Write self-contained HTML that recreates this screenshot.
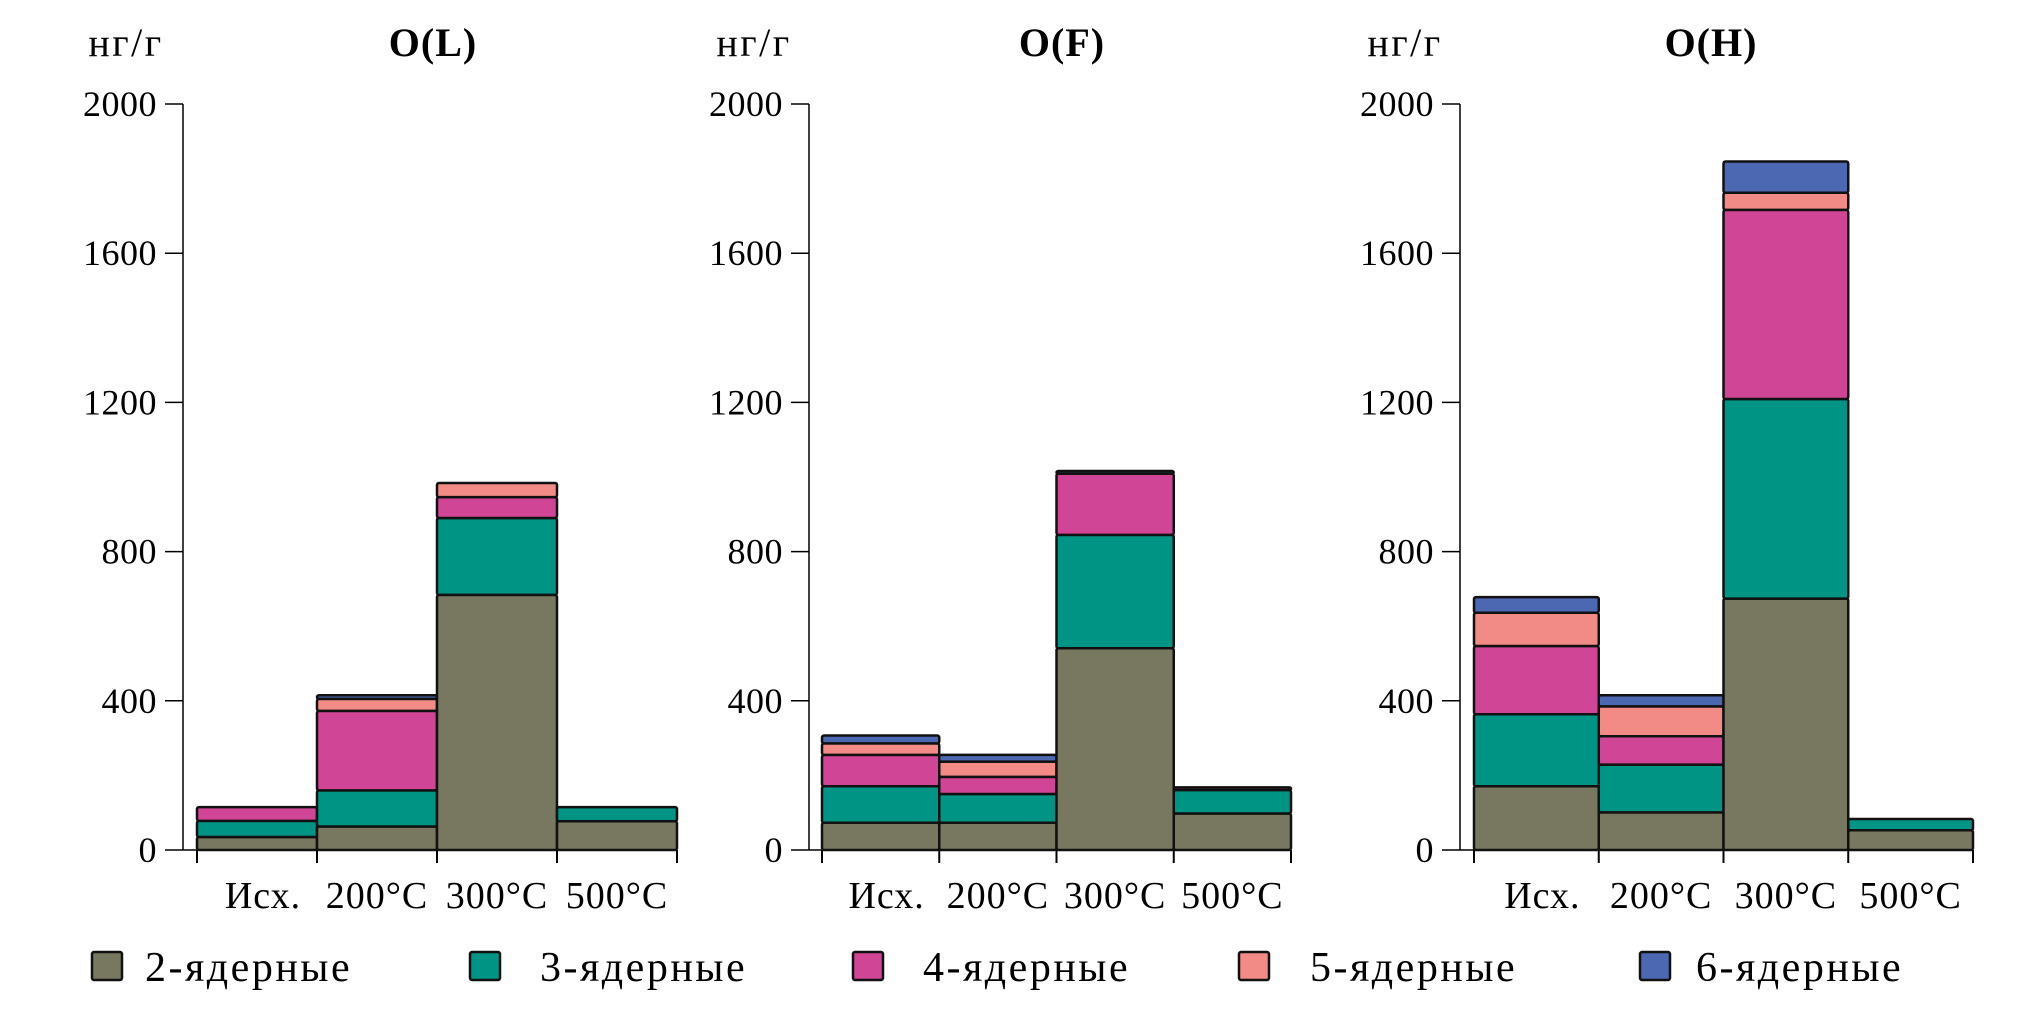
<!DOCTYPE html>
<html><head><meta charset="utf-8"><style>
html,body{margin:0;padding:0;background:#fff;}
svg{display:block;font-family:"Liberation Serif",serif;}
</style></head><body>
<svg id="c" width="2040" height="1033" viewBox="0 0 2040 1033" xmlns="http://www.w3.org/2000/svg"></svg>
<script>
const categories = ["Исх.", "200°C", "300°C", "500°C"];
const seriesNames = ["2-ядерные", "3-ядерные", "4-ядерные", "5-ядерные", "6-ядерные"];
const seriesColors = ["#787860", "#009484", "#d14596", "#f28a85", "#4d68b3"];
const yTicks = [0, 400, 800, 1200, 1600, 2000];
const panelTitles = ["O(L)", "O(F)", "O(H)"];
// stacked component values per panel: [series][category]
const dataL = [[35, 63, 684, 77], [43, 97, 206, 38], [37, 213, 56, 0], [0, 32, 38, 0], [0, 10, 0, 0]];
const dataF = [[73, 73, 541, 98], [98, 77, 304, 63], [84, 46, 164, 7], [31, 41, 0, 0], [21, 18, 7, 0]];
const dataH = [[171, 101, 674, 53], [193, 128, 535, 30], [183, 76, 507, 0], [89, 80, 46, 0], [42, 30, 84, 0]];
const panelData = [dataL, dataF, dataH];

const svg = document.getElementById('c');
const NS = 'http://www.w3.org/2000/svg';
function mk(tag, attrs, parent) {
  const e = document.createElementNS(NS, tag);
  for (const k in attrs) e.setAttribute(k, attrs[k]);
  (parent || svg).appendChild(e);
  return e;
}
const panels = [
  {axisX: 183, x0: 197, x1: 677, unitX: 126, titleX: 433},
  {axisX: 809, x0: 822, x1: 1291, unitX: 754, titleX: 1062},
  {axisX: 1460, x0: 1474, x1: 1973, unitX: 1405, titleX: 1711}
];
const yTop = 104, yBot = 850, yMax = 2000;
function yS(v) { return yBot - (v / yMax) * (yBot - yTop); }

panels.forEach((p, pi) => {
  const g = mk('g', {});
  
  
  const t = mk('text', {x: p.titleX, y: 56, 'font-size': 40, 'font-weight': 'bold', 'text-anchor': 'middle', 'letter-spacing': 1}, g);
  t.textContent = panelTitles[pi];
  
  
  const u = mk('text', {x: p.unitX, y: 56, 'font-size': 40, 'text-anchor': 'middle', 'letter-spacing': 2.5}, g);
  u.textContent = 'нг/г';
  
  
  const ax = mk('line', {x1: p.axisX, y1: yTop, x2: p.axisX, y2: yBot, stroke: '#000', 'stroke-width': 1.5}, g);
  
  
  yTicks.forEach(v => {
    const tl = mk('line', {x1: p.axisX - 18, y1: yS(v), x2: p.axisX, y2: yS(v), stroke: '#000', 'stroke-width': 1.5}, g);
    
    
    const tx = mk('text', {x: p.axisX - 26, y: yS(v) + 12, 'font-size': 36, 'text-anchor': 'end', 'letter-spacing': 0.5}, g);
    tx.textContent = v;
    
    
  });
  const xl = mk('line', {x1: p.axisX, y1: yBot, x2: p.x1, y2: yBot, stroke: '#000', 'stroke-width': 1.5}, g);
  
  
  const bw = (p.x1 - p.x0) / categories.length;
  for (let i = 0; i <= categories.length; i++) {
    const tk = mk('line', {x1: p.x0 + i * bw, y1: yBot, x2: p.x0 + i * bw, y2: yBot + 13, stroke: '#000', 'stroke-width': 2}, g);
    
    
  }
  const data = panelData[pi];
  categories.forEach((c, ci) => {
    let acc = 0;
    data.forEach((ser, si) => {
      const v = ser[ci];
      if (v <= 0) return;
      const r = mk('rect', {x: p.x0 + ci * bw, y: yS(acc + v), width: bw, height: yS(acc) - yS(acc + v),
        fill: seriesColors[si], stroke: '#111', 'stroke-width': 2.5, rx: 2}, g);
      
      
      acc += v;
    });
    const cl = mk('text', {x: p.x0 + (ci + 0.5) * bw + (ci === 0 ? 6 : 0), y: 908, 'font-size': 38, 'text-anchor': 'middle', 'letter-spacing': 1}, g);
    cl.textContent = c;
    
    
  });
});

const legendBoxX = [92, 470, 853, 1239, 1640];
const legendTextX = [145, 540, 923, 1310, 1696];
seriesNames.forEach((n, i) => {
  const g = mk('g', {});
  
  
  const r = mk('rect', {x: legendBoxX[i], y: 952, width: 30, height: 28, fill: seriesColors[i], stroke: '#111', 'stroke-width': 2.5, rx: 2}, g);
  
  
  const t = mk('text', {x: legendTextX[i], y: 981, 'font-size': 42, 'letter-spacing': 2.5}, g);
  t.textContent = n;
  
  
});
</script>
</body></html>
